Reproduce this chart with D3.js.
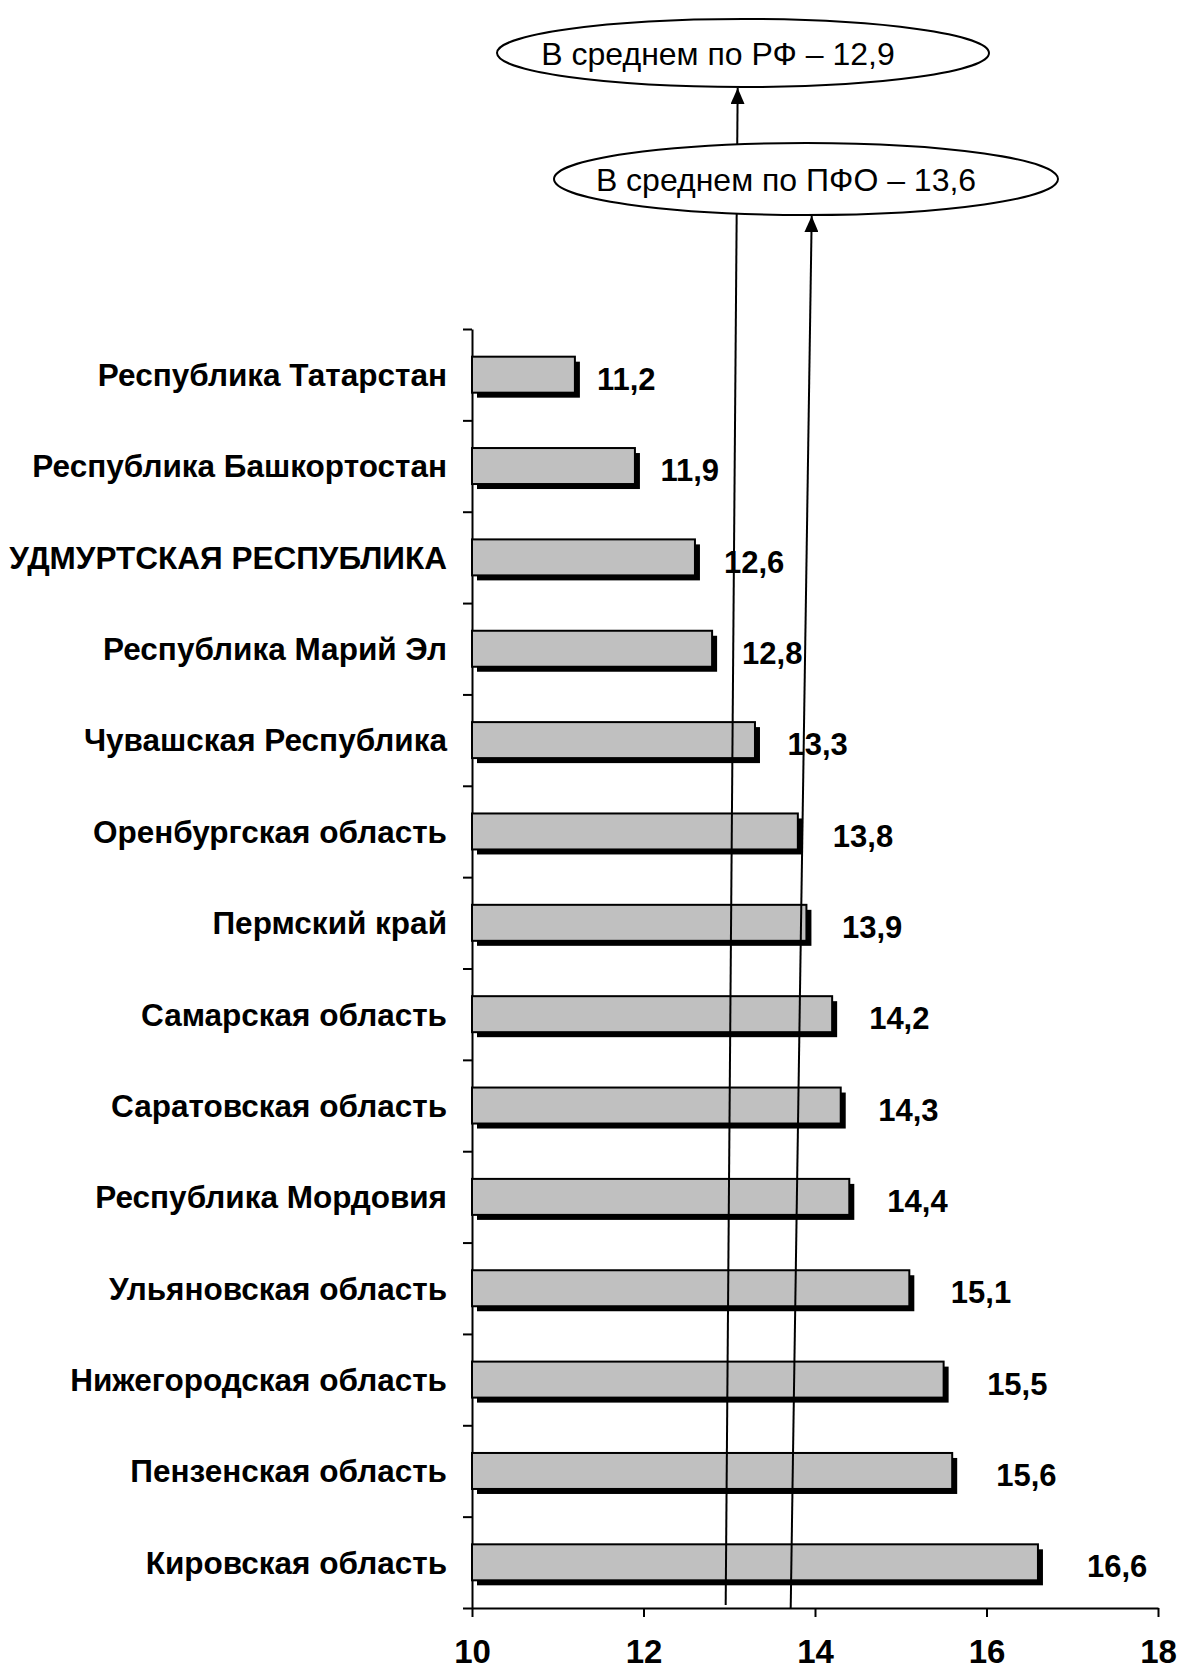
<!DOCTYPE html>
<html>
<head>
<meta charset="utf-8">
<script src="https://cdn.jsdelivr.net/npm/d3@7"></script>
<style>
  body { margin: 0; background: #fff; }
  svg { display: block; font-family: Arial, "Liberation Sans", sans-serif; }
</style>
</head>
<body>
<svg width="1179" height="1668"></svg>
<script>
// regions, top to bottom
const regions = [
    "Республика Татарстан",
    "Республика Башкортостан",
    "УДМУРТСКАЯ РЕСПУБЛИКА",
    "Республика Марий Эл",
    "Чувашская Республика",
    "Оренбургская область",
    "Пермский край",
    "Самарская область",
    "Саратовская область",
    "Республика Мордовия",
    "Ульяновская область",
    "Нижегородская область",
    "Пензенская область",
    "Кировская область"
];
const values = [11.2, 11.9, 12.6, 12.8, 13.3, 13.8, 13.9, 14.2, 14.3, 14.4, 15.1, 15.5, 15.6, 16.6];
const xTicks = [10, 12, 14, 16, 18];
const avgNames = ["В среднем по РФ", "В среднем по ПФО"];
const avgValues = [12.9, 13.6];

const svg = d3.select("svg");
const fmt = d => String(d).replace(".", ",");

const plotTop = 329, plotBottom = 1608;

const xScale = d3.scaleLinear()
    .domain([10, 18])
    .range([472, 1158]);

// labels in the original sit on a slightly wider scale than the bars
const labelScale = d3.scaleLinear()
    .domain([10, 18])
    .range([488, 1214]);

const yScale = d3.scaleBand()
    .domain(regions)
    .range([plotTop, plotBottom])
    .paddingInner(0.606)
    .paddingOuter(0.303);

// y axis with ticks between the bands
const edgeScale = d3.scaleLinear()
    .domain([0, regions.length])
    .range([plotTop, plotBottom]);

const yAxis = d3.axisLeft(edgeScale)
    .tickValues(d3.range(regions.length + 1))
    .tickFormat("")
    .tickSize(9)
    .tickSizeOuter(0);

svg.append("g")
    .attr("transform", "translate(" + xScale(10) + ",0)")
    .call(yAxis)
    .call(g => g.selectAll("path, line").attr("stroke", "#000").attr("stroke-width", 2));

const xAxis = d3.axisBottom(xScale)
    .tickValues(xTicks)
    .tickFormat(d => d)
    .tickSize(9)
    .tickSizeOuter(0);

svg.append("g")
    .attr("transform", "translate(0," + plotBottom + ")")
    .call(xAxis)
    .call(g => g.selectAll("path, line").attr("stroke", "#000").attr("stroke-width", 2))
    .call(g => g.selectAll("text")
        .attr("y", 32)
        .attr("fill", "#000")
        .style("font-family", "Arial, 'Liberation Sans', sans-serif")
        .style("font-size", "33px")
        .style("font-weight", "bold"));

// bars: black shadow first, then the grey bar
const bars = svg.append("g");
bars.selectAll(".shadow")
    .data(values)
    .join("rect")
    .attr("class", "shadow")
    .attr("x", xScale(10) + 5)
    .attr("y", (d, i) => yScale(regions[i]) + 5)
    .attr("width", d => xScale(d) - xScale(10))
    .attr("height", yScale.bandwidth())
    .attr("fill", "#000");

bars.selectAll(".bar")
    .data(values)
    .join("rect")
    .attr("class", "bar")
    .attr("x", xScale(10))
    .attr("y", (d, i) => yScale(regions[i]))
    .attr("width", d => xScale(d) - xScale(10))
    .attr("height", yScale.bandwidth())
    .attr("fill", "#c0c0c0")
    .attr("stroke", "#000")
    .attr("stroke-width", 2);

// category labels
svg.append("g").selectAll("text")
    .data(regions)
    .join("text")
    .attr("x", 447)
    .attr("y", d => yScale(d) + yScale.bandwidth() / 2)
    .attr("dy", "0.36em")
    .attr("text-anchor", "end")
    .style("font-size", "31.5px")
    .style("font-weight", "bold")
    .text(d => d);

// value labels
svg.append("g").selectAll("text")
    .data(values)
    .join("text")
    .attr("x", d => labelScale(d))
    .attr("y", (d, i) => yScale(regions[i]) + yScale.bandwidth() / 2 + 4)
    .attr("dy", "0.36em")
    .style("font-size", "31px")
    .style("font-weight", "bold")
    .text(d => fmt(d));

// arrow marker
svg.append("defs").append("marker")
    .attr("id", "arrow")
    .attr("viewBox", "0 0 16 14")
    .attr("refX", 16)
    .attr("refY", 7)
    .attr("markerWidth", 16)
    .attr("markerHeight", 14)
    .attr("markerUnits", "userSpaceOnUse")
    .attr("orient", "auto")
    .append("path")
    .attr("d", "M0,0 L16,7 L0,14 Z")
    .attr("fill", "#000");

// average lines go up to their callouts, slightly slanted
const callouts = [
    { cx: 743, cy: 53, rx: 246, ry: 34, tx: 718, dxBottom: 5, dxTop: 17, yBottom: 1605 },
    { cx: 806, cy: 179, rx: 252, ry: 36, tx: 786, dxBottom: 10, dxTop: 31, yBottom: 1608 }
];

const notes = svg.append("g");
avgValues.forEach((v, i) => {
    const c = callouts[i];
    const xb = xScale(v) + c.dxBottom;
    const xt = xScale(v) + c.dxTop;
    notes.append("line")
        .attr("x1", xb)
        .attr("y1", c.yBottom)
        .attr("x2", xt)
        .attr("y2", c.cy + c.ry + 1)
        .attr("stroke", "#000")
        .attr("stroke-width", 2)
        .attr("marker-end", "url(#arrow)");
});

// the lower callout is drawn after the line, hiding the RF line behind it
[1, 0].forEach(i => {
    const c = callouts[i];
    notes.append("ellipse")
        .attr("cx", c.cx)
        .attr("cy", c.cy)
        .attr("rx", c.rx)
        .attr("ry", c.ry)
        .attr("fill", "#fff")
        .attr("stroke", "#000")
        .attr("stroke-width", 2);
    notes.append("text")
        .attr("x", c.tx)
        .attr("y", c.cy)
        .attr("dy", "0.36em")
        .attr("text-anchor", "middle")
        .style("font-size", "32px")
        .text(avgNames[i] + " – " + fmt(avgValues[i]));
});
</script>
</body>
</html>
